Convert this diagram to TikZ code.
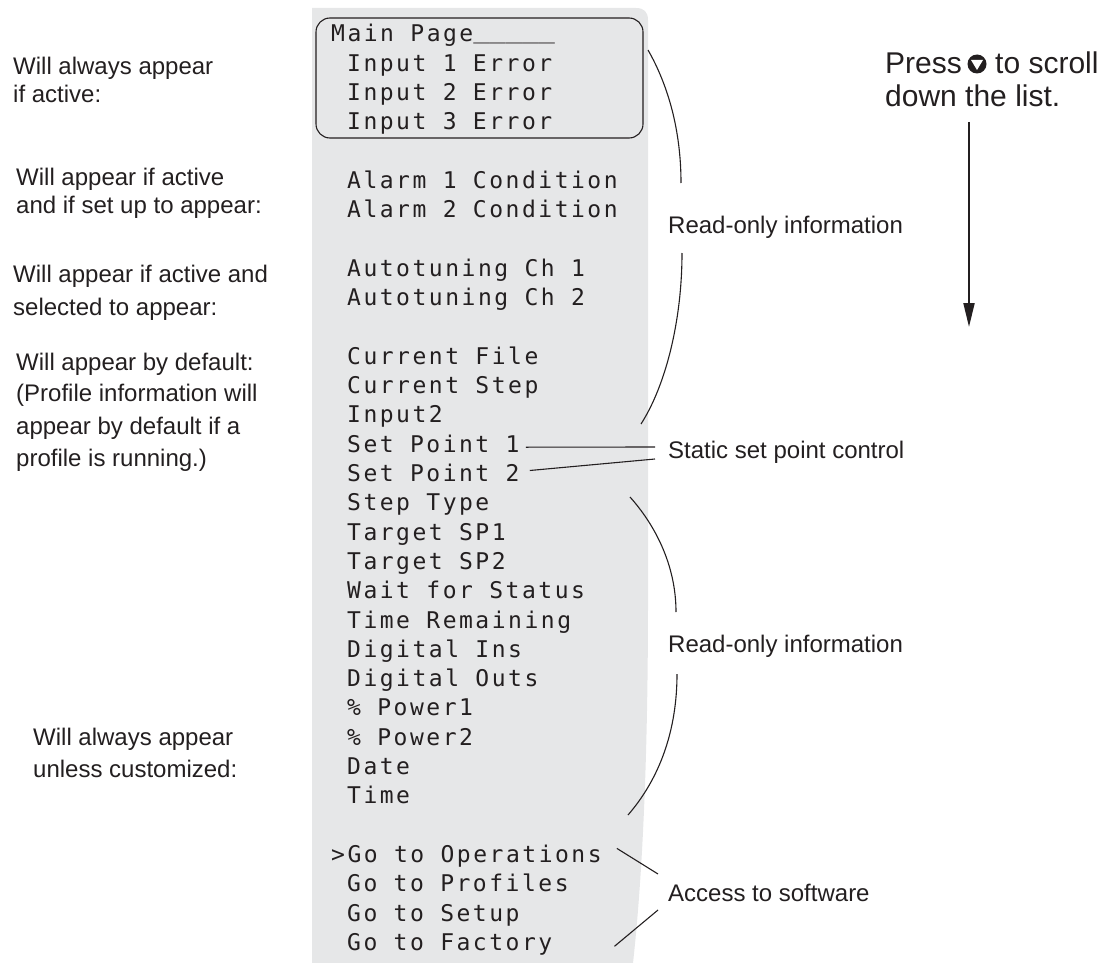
\documentclass[tikz,border=0pt]{standalone}
\usepackage{fontspec}
\usepackage{graphicx}
\setmainfont{Liberation Sans}
\newfontfamily\lcdfont[LetterSpace=10.9]{DejaVu Sans Mono}
\newfontfamily\lcdplain{DejaVu Sans Mono}
\usetikzlibrary{arrows.meta,calc}
\definecolor{panelgrey}{HTML}{E6E7E8}
\definecolor{ink}{HTML}{231F20}
\newcommand{\lcdsize}{\lcdfont\fontsize{23}{27}\selectfont\fontdimen2\font=16.35pt\fontdimen3\font=0pt\fontdimen4\font=0pt}
\newcommand{\underfill}{\raisebox{3pt}{\lcdplain\fontsize{23}{27}\selectfont\scalebox{1.18}[1]{\_\_\_\_\_}}}
\begin{document}
\begin{tikzpicture}[x=1pt,y=-1pt,
  lcd/.style={anchor=base west, inner sep=0pt, font=\lcdsize, text=ink},
  lbl/.style={anchor=base west, inner sep=0pt, font=\fontsize{24}{28}\selectfont, text=ink},
  big/.style={anchor=base west, inner sep=0pt, font=\fontsize{30}{34}\selectfont, text=ink},
  conn/.style={draw=ink, line width=1.1pt}]
\useasboundingbox (0,0) rectangle (1108,963);
% grey display panel
\fill[panelgrey] (312,963) -- (312,8) -- (636,8) .. controls (644,8) and (648,12) .. (648,20)
  -- (648,600) .. controls (648,790) and (640,900) .. (633,963) -- cycle;
% header box
\draw[ink, line width=1.1pt, rounded corners=14pt] (316,18) rectangle (643,138);
% list
\node[lcd] (main)  at (331,{42+29.3*0})  {Main Page\underfill};
\node[lcd] (in1)   at (347,{42+29.3*1})  {Input 1 Error};
\node[lcd] (in2)   at (347,{42+29.3*2})  {Input 2 Error};
\node[lcd] (in3)   at (347,{42+29.3*3})  {Input 3 Error};
\node[lcd] (al1)   at (347,{42+29.3*5})  {Alarm 1 Condition};
\node[lcd] (al2)   at (347,{42+29.3*6})  {Alarm 2 Condition};
\node[lcd] (at1)   at (347,{42+29.3*8})  {Autotuning Ch 1};
\node[lcd] (at2)   at (347,{42+29.3*9})  {Autotuning Ch 2};
\node[lcd] (cfile) at (347,{42+29.3*11}) {Current File};
\node[lcd] (cstep) at (347,{42+29.3*12}) {Current Step};
\node[lcd] (inp2)  at (347,{42+29.3*13}) {Input2};
\node[lcd] (sp1)   at (347,{42+29.3*14}) {Set Point 1};
\node[lcd] (sp2)   at (347,{42+29.3*15}) {Set Point 2};
\node[lcd] (stype) at (347,{42+29.3*16}) {Step Type};
\node[lcd] (tsp1)  at (347,{42+29.3*17}) {Target SP1};
\node[lcd] (tsp2)  at (347,{42+29.3*18}) {Target SP2};
\node[lcd] (wait)  at (347,{42+29.3*19}) {Wait for Status};
\node[lcd] (trem)  at (347,{42+29.3*20}) {Time Remaining};
\node[lcd] (dins)  at (347,{42+29.3*21}) {Digital Ins};
\node[lcd] (douts) at (347,{42+29.3*22}) {Digital Outs};
\node[lcd] (pw1)   at (347,{42+29.3*23}) {\% Power1};
\node[lcd] (pw2)   at (347,{42+29.3*24}) {\% Power2};
\node[lcd] (date)  at (347,{42+29.3*25}) {Date};
\node[lcd] (time)  at (347,{42+29.3*26}) {Time};
\node[lcd] (ops)   at (331,{42+29.3*28}) {>Go to Operations};
\node[lcd] (prof)  at (347,{42+29.3*29}) {Go to Profiles};
\node[lcd] (setup) at (347,{42+29.3*30}) {Go to Setup};
\node[lcd] (fact)  at (347,{42+29.3*31}) {Go to Factory};
% left labels
\node[lbl] (la1) at (13,75)  {Will always appear};
\node[lbl] (la2) at (13,103) {if active:};
\node[lbl] (lb1) at (16,185) {Will appear if active};
\node[lbl] (lb2) at (16,213) {and if set up to appear:};
\node[lbl] (lc1) at (13,282) {Will appear if active and};
\node[lbl] (lc2) at (13,315) {selected to appear:};
\node[lbl] (ld1) at (16,370) {Will appear by default:};
\node[lbl] (ld2) at (16,401) {(Profile information will};
\node[lbl] (ld3) at (16,434) {appear by default if a};
\node[lbl] (ld4) at (16,466) {profile is running.)};
\node[lbl] (le1) at (33,745) {Will always appear};
\node[lbl] (le2) at (33,777) {unless customized:};
% right labels
\node[lbl] (ro1)    at (668,233) {Read-only information};
\node[lbl] (static) at (668,458) {Static set point control};
\node[lbl] (ro2)    at (668,652) {Read-only information};
\node[lbl] (access) at (668,901) {Access to software};
% brackets
\coordinate (b1a) at (648,50);  \coordinate (b1b) at (681,183);
\coordinate (b1c) at (682,253); \coordinate (b1d) at (641,424);
\draw[conn] (b1a) .. controls (668,85) and (681,130) .. (b1b);
\draw[conn] (b1c) .. controls (682,320) and (666,385) .. (b1d);
\coordinate (b2a) at (630,497); \coordinate (b2b) at (676,612);
\coordinate (b2c) at (677,674); \coordinate (b2d) at (628,815);
\draw[conn] (b2a) .. controls (655,525) and (676,565) .. (b2b);
\draw[conn] (b2c) .. controls (677,730) and (660,778) .. (b2d);
% set point leaders
\coordinate (s1e) at (655,447); \coordinate (s2e) at (655,459);
\draw[conn] ($(sp1.base east)+(6,-5)$) -- (s1e);
\draw[conn] ($(sp2.base east)+(10,-11)$) -- (s2e);
% access leaders
\coordinate (ae1) at (658,874); \coordinate (ae2) at (658,910);
\draw[conn] ($(ops.base east)+(15,-14)$) -- (ae1);
\draw[conn] ($(fact.base east)+(62,-4)$) -- (ae2);
% scroll hint
\node[big] (press) at (885,74) {Press};
\node[circle, fill=ink, minimum size=19pt, inner sep=0pt] (dnkey) at (977,64) {};
\fill[white] ($(dnkey)+(-6,-4)$) -- ($(dnkey)+(6,-4)$) -- ($(dnkey)+(0,6)$) -- cycle;
\node[big] (scroll) at (995,74) {to scroll};
\node[big] (downl) at (885,107) {down the list.};
\coordinate (arrtop) at (969,122); \coordinate (arrbot) at (969,327);
\draw[ink, line width=2pt, -{Triangle[length=24pt,width=11pt]}] (arrtop) -- (arrbot);
\end{tikzpicture}
\end{document}
